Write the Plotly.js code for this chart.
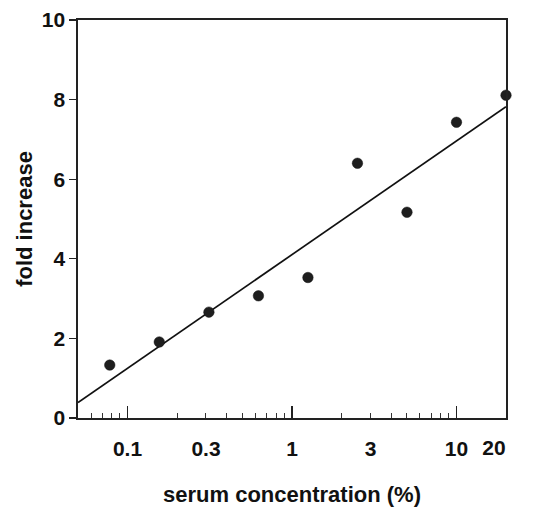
<!DOCTYPE html>
<html>
<head>
<meta charset="utf-8">
<script src="https://cdn.plot.ly/plotly-3.0.1.min.js"></script>
<style>html,body{margin:0;padding:0;background:#fff;}#chart{width:544px;height:507px;}</style>
</head>
<body>
<div id="chart"></div>
<script>
// Data
const serumConc = [0.078, 0.156, 0.3125, 0.625, 1.25, 2.5, 5, 10, 20];
const foldIncrease = [1.33, 1.91, 2.66, 3.07, 3.53, 6.40, 5.17, 7.43, 8.11];
const fitX = [0.05, 20];
const fitY = [0.39, 7.82];
const xLabelVals = [0.1, 0.3, 1, 3, 10];
const xLabelText = ['0.1', '0.3', '1', '3', '10'];
const xMajorVals = [0.1, 1, 10];
const xMinorVals = [0.06, 0.07, 0.08, 0.09, 0.2, 0.3, 0.4, 0.5, 0.6, 0.7, 0.8, 0.9, 2, 3, 4, 5, 6, 7, 8, 9];
const yTickVals = [0, 2, 4, 6, 8, 10];

const FONT = 'Liberation Sans, Arial, sans-serif';
const xr = [Math.log10(0.05), Math.log10(20)];

const traces = [
  {x: fitX, y: fitY, mode: 'lines', line: {color: '#111', width: 1.7}, hoverinfo: 'skip'},
  {x: serumConc, y: foldIncrease, mode: 'markers', cliponaxis: false,
   marker: {size: 10.5, color: '#1e1e1e', line: {color: '#111', width: 0.5}}},
  {x: fitX, y: fitY, xaxis: 'x2', mode: 'lines', line: {width: 0}, opacity: 0, hoverinfo: 'skip'},
  {x: fitX, y: fitY, xaxis: 'x3', mode: 'lines', line: {width: 0}, opacity: 0, hoverinfo: 'skip'}
];

const layout = {
  width: 544, height: 507,
  margin: {l: 78, r: 38, t: 20, b: 89},
  paper_bgcolor: '#fff', plot_bgcolor: '#fff',
  showlegend: false,
  font: {family: FONT, color: '#111'},
  xaxis: {
    type: 'log', range: xr, showgrid: false, zeroline: false,
    showline: true, linecolor: '#222', linewidth: 1.6, mirror: true,
    tickmode: 'array', tickvals: xLabelVals, ticktext: xLabelText,
    ticks: '', ticklabelstandoff: 11,
    tickfont: {family: FONT, size: 21, color: '#111', weight: 'bold'},
    title: {text: 'serum concentration (%)', standoff: 30,
            font: {family: FONT, size: 22, color: '#111', weight: 'bold'}}
  },
  xaxis2: {
    type: 'log', range: xr, overlaying: 'x', anchor: 'y', side: 'bottom',
    showgrid: false, zeroline: false, showline: false,
    tickmode: 'array', tickvals: xMajorVals, showticklabels: false,
    ticks: 'inside', ticklen: 12, tickwidth: 1.3, tickcolor: '#222',
    minor: {tickmode: 'array', tickvals: xMinorVals, ticks: 'inside', ticklen: 5, tickwidth: 1, tickcolor: '#333', showgrid: false}
  },
  xaxis3: {
    type: 'log', range: xr, overlaying: 'x', anchor: 'y', side: 'bottom',
    showgrid: false, zeroline: false, showline: false,
    tickmode: 'array', tickvals: [20], ticktext: ['20'],
    ticks: '', ticklabelstandoff: 15, ticklabelshift: -12,
    tickfont: {family: FONT, size: 21, color: '#111', weight: 'bold'}
  },
  yaxis: {
    range: [0, 10], showgrid: false, zeroline: false,
    showline: true, linecolor: '#222', linewidth: 1.6, mirror: true,
    tickmode: 'array', tickvals: yTickVals,
    ticks: 'outside', ticklen: 7, tickwidth: 1.3, tickcolor: '#222',
    tickfont: {family: FONT, size: 21, color: '#111', weight: 'bold'},
    title: {text: 'fold increase', standoff: 3,
            font: {family: FONT, size: 22, color: '#111', weight: 'bold'}}
  }
};

Plotly.newPlot('chart', traces, layout, {displayModeBar: false, staticPlot: true});
</script>
</body>
</html>
